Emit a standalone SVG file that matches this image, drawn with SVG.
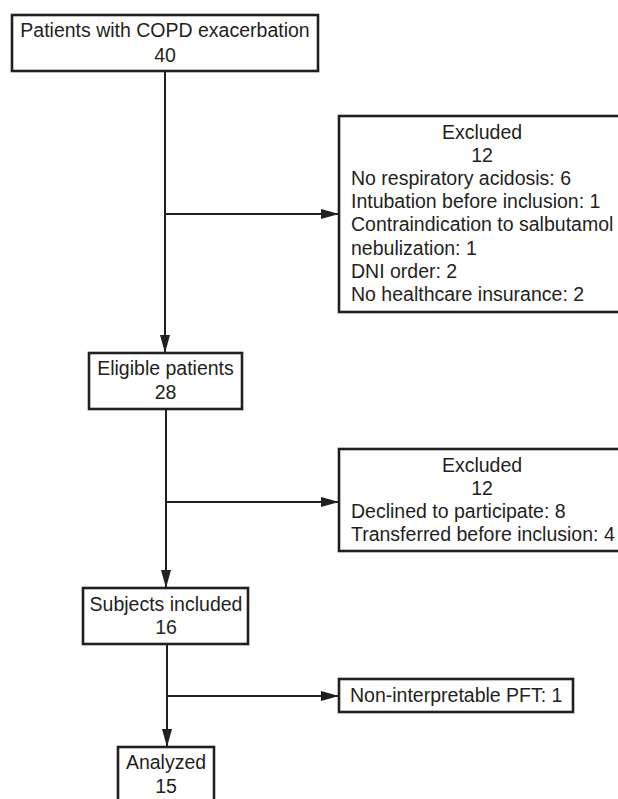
<svg xmlns="http://www.w3.org/2000/svg" width="618" height="799" viewBox="0 0 618 799">
<style>
.box{fill:#fff;stroke:#231f20;stroke-width:2.6}
.t{font-family:"Liberation Sans",Arial,sans-serif;font-size:19.5px;fill:#231f20}
.c{text-anchor:middle}
.ln{stroke:#231f20;stroke-width:2;fill:none}
</style>
<defs>
<marker id="ah" markerUnits="userSpaceOnUse" markerWidth="18" markerHeight="10" refX="18" refY="5" orient="auto">
<path d="M0,0 L18,5 L0,10 z" fill="#231f20"/>
</marker>
</defs>
<rect width="618" height="799" fill="#fff"/>
<g id="connectors">
<line class="ln" x1="165" y1="71" x2="165" y2="353" marker-end="url(#ah)"/>
<line class="ln" x1="165" y1="214" x2="339" y2="214" marker-end="url(#ah)"/>
<line class="ln" x1="166" y1="409" x2="166" y2="588" marker-end="url(#ah)"/>
<line class="ln" x1="166" y1="502" x2="339" y2="502" marker-end="url(#ah)"/>
<line class="ln" x1="167" y1="644" x2="167" y2="747" marker-end="url(#ah)"/>
<line class="ln" x1="167" y1="696" x2="339" y2="696" marker-end="url(#ah)"/>
</g>
<g id="n-copd">
<rect class="box" x="12" y="15" width="306" height="56"/>
<text class="t c" x="165" y="37">Patients with COPD exacerbation</text>
<text class="t c" x="165" y="62">40</text>
</g>
<g id="n-excl1">
<rect class="box" x="339" y="116" width="300" height="196"/>
<text class="t c" x="482" y="139">Excluded</text>
<text class="t c" x="482" y="162">12</text>
<text class="t" x="351" y="185">No respiratory acidosis: 6</text>
<text class="t" x="351" y="208">Intubation before inclusion: 1</text>
<text class="t" x="351" y="231">Contraindication to salbutamol</text>
<text class="t" x="351" y="254.5">nebulization: 1</text>
<text class="t" x="351" y="278">DNI order: 2</text>
<text class="t" x="351" y="301">No healthcare insurance: 2</text>
</g>
<g id="n-eligible">
<rect class="box" x="89" y="353" width="153" height="56"/>
<text class="t c" x="165.5" y="375">Eligible patients</text>
<text class="t c" x="165.5" y="399">28</text>
</g>
<g id="n-excl2">
<rect class="box" x="339" y="449" width="300" height="102"/>
<text class="t c" x="482" y="472">Excluded</text>
<text class="t c" x="482" y="495">12</text>
<text class="t" x="351" y="518">Declined to participate: 8</text>
<text class="t" x="351" y="541">Transferred before inclusion: 4</text>
</g>
<g id="n-subjects">
<rect class="box" x="83" y="588" width="165" height="56"/>
<text class="t c" x="166" y="611">Subjects included</text>
<text class="t c" x="166" y="634">16</text>
</g>
<g id="n-pft">
<rect class="box" x="339" y="679" width="234" height="33"/>
<text class="t" x="350" y="702">Non-interpretable PFT: 1</text>
</g>
<g id="n-analyzed">
<rect class="box" x="118" y="747" width="96" height="60"/>
<text class="t c" x="166" y="769">Analyzed</text>
<text class="t c" x="166" y="793">15</text>
</g>
</svg>
